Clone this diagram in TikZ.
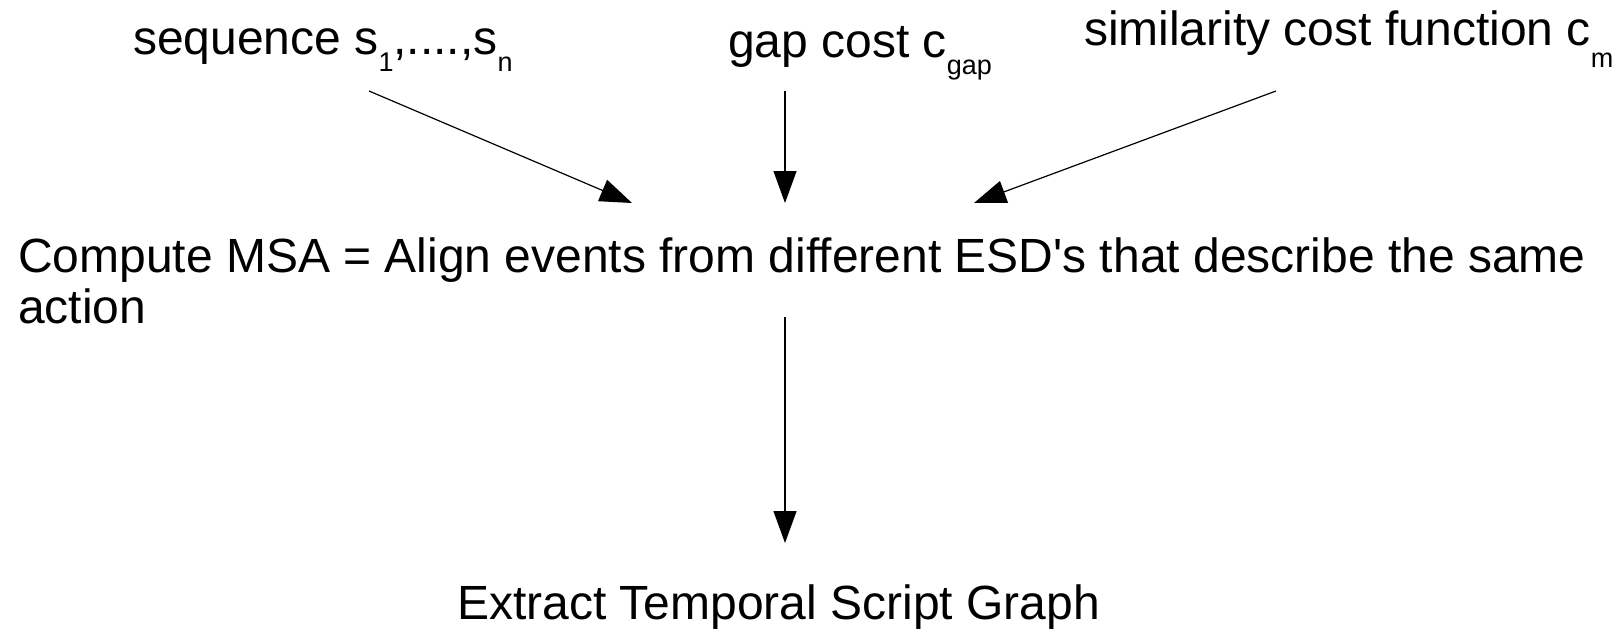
\documentclass[tikz,border=0pt]{standalone}
\usepackage{fontspec}
\setmainfont{Liberation Sans}[Ligatures=TeXOff]
\usetikzlibrary{arrows.meta}
\newcommand{\sbs}[2]{\raisebox{-#1pt}{\fontsize{27}{27}\selectfont #2}}
\begin{document}
\begin{tikzpicture}[x=1pt,y=-1pt,
  lbl/.style={anchor=base west,inner sep=0pt,outer sep=0pt,font=\fontsize{48}{51}\selectfont},
  arr/.style={line width=1.2pt,-{Triangle[length=32pt,width=23pt]}}]
\useasboundingbox (0,0) rectangle (1624,629);
\node[lbl] (seq) at (133,54) {sequence s\sbs{17}{1},....,s\sbs{17}{n}};
\node[lbl] (gap) at (728,57) {gap cost c\sbs{17}{gap}};
\node[lbl] (sim) at (1084,45) {similarity cost function c\sbs{22}{m}};
\node[lbl] (msa) at (18,272) {\begin{tabular}[t]{@{}l@{}}Compute MSA = Align events from different ESD's that describe the same\\action\end{tabular}};
\node[lbl] (tsg) at (457,619) {Extract Temporal Script Graph};
\coordinate (s1) at (369,91);
\coordinate (s2) at (785,91);
\coordinate (s3) at (1276,91);
\coordinate (t1) at (632,203);
\coordinate (t2) at (785,203);
\coordinate (t3) at (974,203);
\coordinate (s4) at (785,317);
\coordinate (t4) at (785,543);
\draw[arr] (s1) -- (t1);
\draw[arr] (s2) -- (t2);
\draw[arr] (s3) -- (t3);
\draw[arr] (s4) -- (t4);
\end{tikzpicture}
\end{document}
